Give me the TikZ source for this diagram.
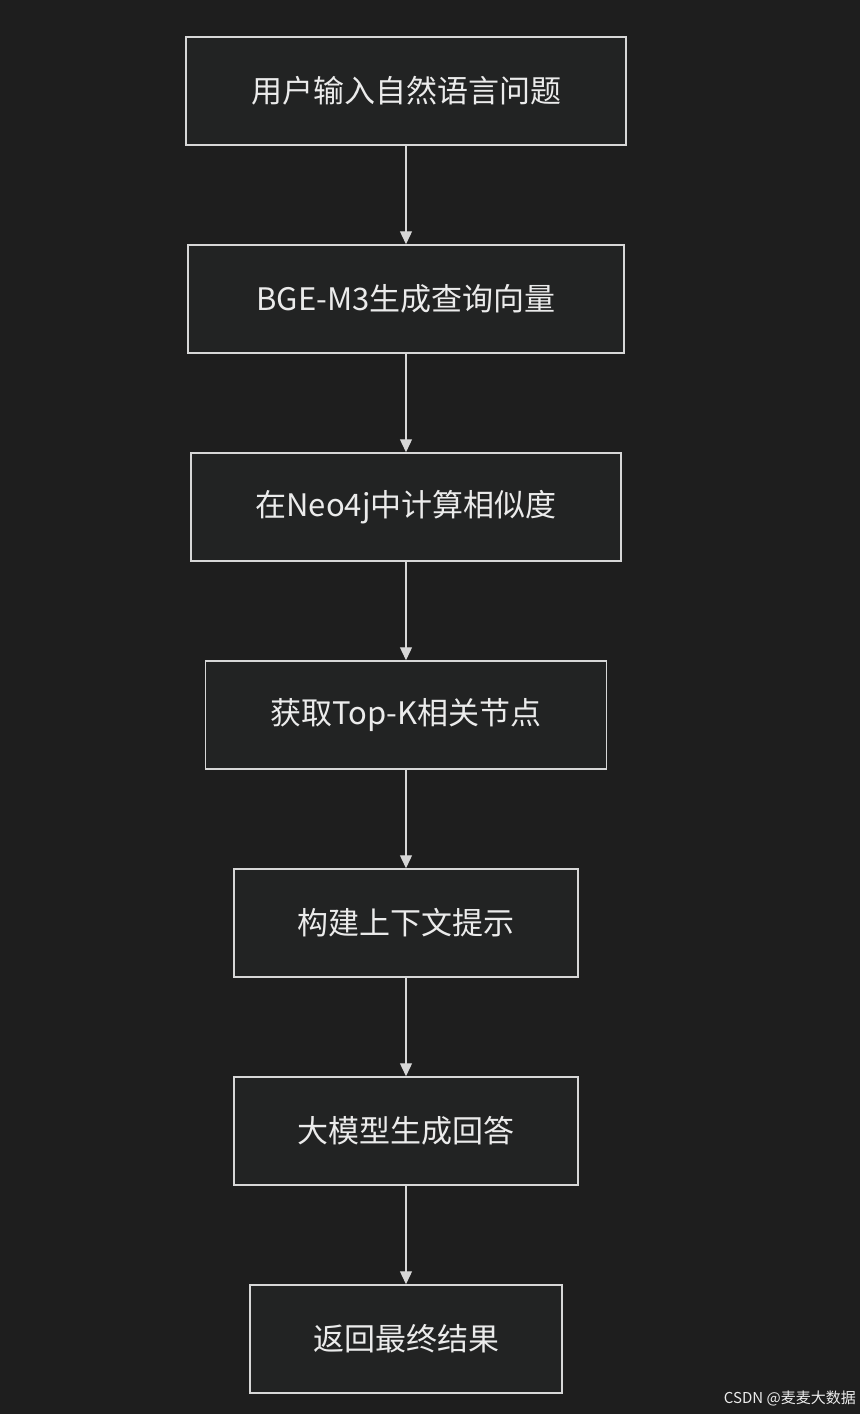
\documentclass[tikz,border=0pt]{standalone}
\usepackage{fontspec}
\setmainfont{Noto Sans CJK SC}
\usetikzlibrary{arrows.meta}
\definecolor{bg}{RGB}{30,30,30}
\definecolor{boxfill}{RGB}{34,35,35}
\definecolor{edge}{RGB}{215,215,215}
\definecolor{txt}{RGB}{235,235,235}
\tikzset{
  stepbox/.style={draw=edge, line width=1.5pt, fill=boxfill, text=txt, font=\fontsize{31}{36}\selectfont, inner sep=0pt, anchor=center},
  conn/.style={draw=edge, line width=1.3pt, -{Triangle[length=13pt,width=12pt]}}
}
\begin{document}
\begin{tikzpicture}[x=1pt,y=-1pt]
\fill[bg] (0,0) rectangle (860,1414);
\useasboundingbox (0,0) rectangle (860,1414);
\node[stepbox, minimum width=440pt, minimum height=108pt] (a) at (406,91) {用户输入自然语言问题};
\node[stepbox, minimum width=436pt, minimum height=108pt] (b) at (406,299) {BGE-M3生成查询向量};
\node[stepbox, minimum width=430pt, minimum height=108pt] (c) at (406,507) {在Neo4j中计算相似度};
\node[stepbox, minimum width=401pt, minimum height=108pt] (d) at (406,715) {获取Top-K相关节点};
\node[stepbox, minimum width=344pt, minimum height=108pt] (e) at (406,923) {构建上下文提示};
\node[stepbox, minimum width=344pt, minimum height=108pt] (f) at (406,1131) {大模型生成回答};
\node[stepbox, minimum width=312pt, minimum height=108pt] (g) at (406,1339) {返回最终结果};
\foreach \u/\v in {a/b,b/c,c/d,d/e,e/f,f/g} \draw[conn] (\u) -- (\v);
\node[text=txt, font=\fontsize{15}{18}\selectfont, anchor=east, inner sep=0pt] (w) at (856,1398) {CSDN @麦麦大数据};
\end{tikzpicture}
\end{document}
